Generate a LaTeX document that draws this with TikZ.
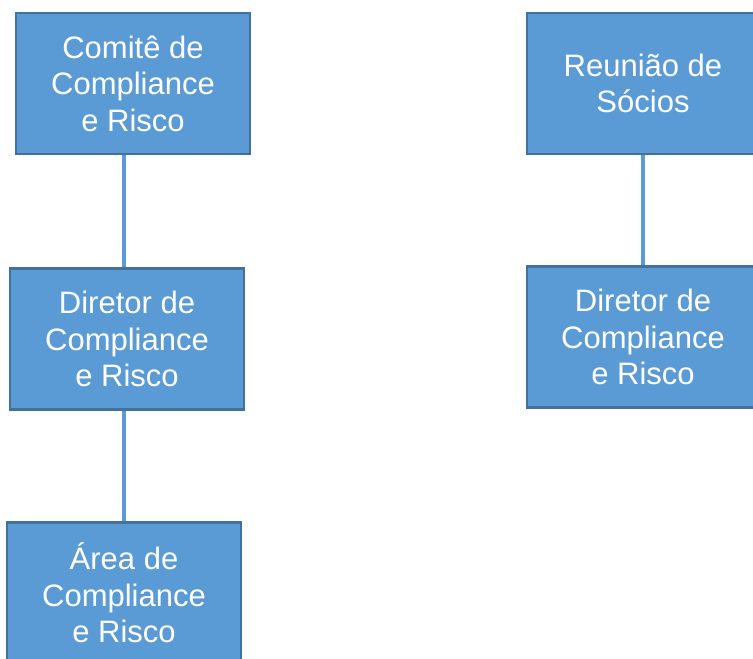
\documentclass[tikz,border=0pt]{standalone}
\usepackage{fontspec}
\setmainfont{Liberation Sans}
\usepackage{tikz}
\usetikzlibrary{calc}

\definecolor{boxfill}{HTML}{5B9BD5}
\definecolor{boxline}{HTML}{41719C}

\begin{document}
\begin{tikzpicture}[
    x=1pt,
    y=-1pt
]
\tikzstyle{box}=[rectangle, draw=boxline, line width=2.2pt, fill=boxfill,
    text=white, align=center, minimum width=234pt, minimum height=141pt,
    inner sep=0pt, font=\fontsize{31}{36.5}\selectfont]
\tikzstyle{link}=[draw=boxfill, line width=3.2pt]

\useasboundingbox (0,0) rectangle (753,659);

% Left chart
\node[box] (comite) at (133,83.5) {Comitê de\\Compliance\\e Risco};
\node[box] (diretorA) at (127,339) {Diretor de\\Compliance\\e Risco};
\node[box] (area) at (124,593) {Área de\\Compliance\\e Risco};

% Right chart
\node[box, minimum width=232pt] (reuniao) at (643,83.5) {Reunião de\\Sócios};
\node[box, minimum width=232pt] (diretorB) at (643,337) {Diretor de\\Compliance\\e Risco};

% Connections
\draw[link] (area.north |- comite.south) -- (area.north |- diretorA.north);
\draw[link] (area.north |- diretorA.south) -- (area.north);
\draw[link] (reuniao.south) -- (diretorB.north);

\end{tikzpicture}
\end{document}
